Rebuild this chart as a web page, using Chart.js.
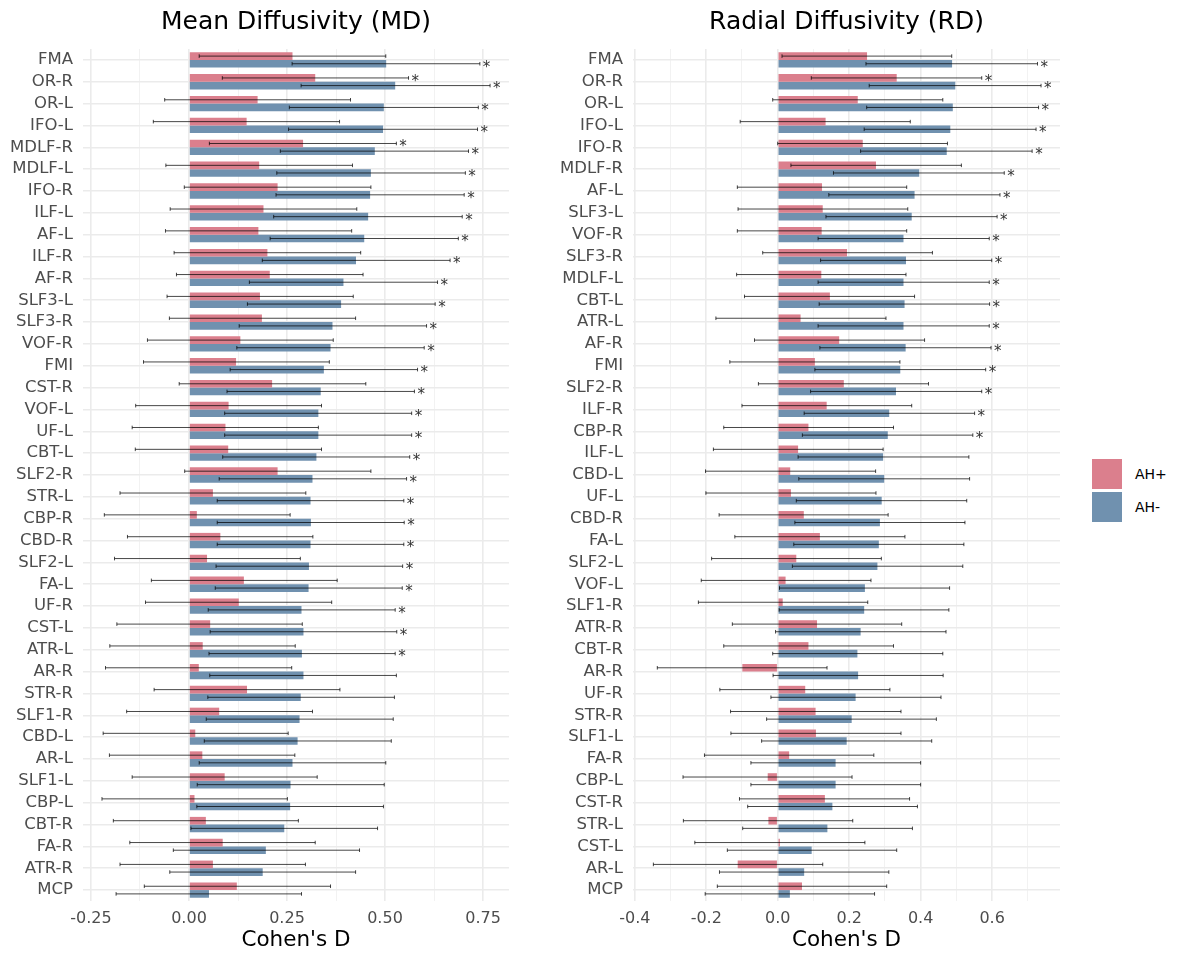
<!DOCTYPE html>
<html lang="en">
<head>
  <meta charset="UTF-8">
  <title>Cohen's D - MD / RD</title>
  <script src="https://cdn.jsdelivr.net/npm/chart.js"></script>
  <style>
    body {
      margin: 0;
      background-color: #fff;
      font-family: 'DejaVu Sans', sans-serif;
    }
    #contenedor {
      position: relative;
      width: 1182px;
      height: 954px;
    }
    #grafico-md { position: absolute; left: 0; top: 0; }
    #grafico-rd { position: absolute; left: 530px; top: 0; }
    #leyenda {
      position: absolute;
      left: 1092px;
      top: 457px;
      font-size: 14px;
      color: #000;
    }
    .item { display: flex; align-items: center; height: 33px; }
    .caja { width: 30px; height: 30px; margin-right: 13px; }
  </style>
</head>
<body>

  <div id="contenedor">
    <canvas id="grafico-md" width="520" height="954"></canvas>
    <canvas id="grafico-rd" width="540" height="954"></canvas>
    <div id="leyenda">
      <div class="item"><div class="caja" style="background:#DB7F8D"></div>AH+</div>
      <div class="item"><div class="caja" style="background:#7091AF"></div>AH-</div>
    </div>
  </div>

  <script>
    // ---- Mean Diffusivity (MD) ----
    var mdCats = ['FMA','OR-R','OR-L','IFO-L','MDLF-R','MDLF-L','IFO-R','ILF-L','AF-L','ILF-R','AF-R','SLF3-L','SLF3-R','VOF-R','FMI','CST-R','VOF-L','UF-L','CBT-L','SLF2-R','STR-L','CBP-R','CBD-R','SLF2-L','FA-L','UF-R','CST-L','ATR-L','AR-R','STR-R','SLF1-R','CBD-L','AR-L','SLF1-L','CBP-L','CBT-R','FA-R','ATR-R','MCP'];
    var mdPos   = [0.264,0.322,0.175,0.147,0.291,0.179,0.226,0.190,0.177,0.200,0.206,0.181,0.186,0.131,0.120,0.212,0.101,0.093,0.100,0.226,0.061,0.020,0.080,0.046,0.140,0.127,0.054,0.035,0.025,0.148,0.077,0.016,0.034,0.091,0.014,0.043,0.086,0.061,0.122];
    var mdPosLo = [0.026,0.085,-0.062,-0.091,0.052,-0.059,-0.012,-0.048,-0.060,-0.038,-0.032,-0.056,-0.050,-0.106,-0.116,-0.025,-0.136,-0.145,-0.137,-0.011,-0.176,-0.216,-0.157,-0.190,-0.096,-0.111,-0.184,-0.202,-0.213,-0.089,-0.159,-0.219,-0.203,-0.145,-0.222,-0.193,-0.151,-0.176,-0.114];
    var mdPosHi = [0.502,0.560,0.412,0.384,0.529,0.417,0.464,0.428,0.415,0.438,0.444,0.419,0.425,0.368,0.358,0.451,0.338,0.330,0.338,0.464,0.298,0.258,0.316,0.284,0.378,0.364,0.289,0.271,0.262,0.385,0.315,0.253,0.270,0.327,0.251,0.279,0.322,0.297,0.361];
    var mdPosSig = [0,1,0,0,1,0,0,0,0,0,0,0,0,0,0,0,0,0,0,0,0,0,0,0,0,0,0,0,0,0,0,0,0,0,0,0,0,0,0];
    var mdNeg   = [0.503,0.526,0.497,0.495,0.474,0.464,0.462,0.457,0.447,0.426,0.394,0.388,0.366,0.361,0.344,0.336,0.330,0.330,0.325,0.315,0.310,0.311,0.310,0.306,0.305,0.287,0.292,0.288,0.292,0.285,0.282,0.277,0.264,0.259,0.258,0.243,0.196,0.188,0.051];
    var mdNegLo = [0.263,0.286,0.256,0.254,0.233,0.224,0.222,0.216,0.207,0.187,0.154,0.149,0.128,0.122,0.105,0.097,0.091,0.091,0.086,0.077,0.072,0.072,0.072,0.069,0.067,0.049,0.054,0.051,0.053,0.048,0.044,0.039,0.026,0.021,0.020,0.005,-0.040,-0.049,-0.186];
    var mdNegHi = [0.742,0.768,0.738,0.736,0.713,0.705,0.702,0.697,0.687,0.666,0.634,0.628,0.606,0.600,0.583,0.575,0.568,0.568,0.563,0.555,0.548,0.549,0.548,0.545,0.544,0.526,0.530,0.526,0.529,0.524,0.521,0.516,0.502,0.498,0.496,0.481,0.435,0.425,0.287];
    var mdNegSig = [1,1,1,1,1,1,1,1,1,1,1,1,1,1,1,1,1,1,1,1,1,1,1,1,1,1,1,1,0,0,0,0,0,0,0,0,0,0,0];
    var mdTicks = [-0.25,-0.125,0,0.125,0.25,0.375,0.5,0.625,0.75];
    var mdMajor = [-0.25,0,0.25,0.5,0.75];
    var mdTickLabels = ['-0.25','0.00','0.25','0.50','0.75'];

    // ---- Radial Diffusivity (RD) ----
    var rdCats = ['FMA','OR-R','OR-L','IFO-L','IFO-R','MDLF-R','AF-L','SLF3-L','VOF-R','SLF3-R','MDLF-L','CBT-L','ATR-L','AF-R','FMI','SLF2-R','ILF-R','CBP-R','ILF-L','CBD-L','UF-L','CBD-R','FA-L','SLF2-L','VOF-L','SLF1-R','ATR-R','CBT-R','AR-R','UF-R','STR-R','SLF1-L','FA-R','CBP-L','CST-R','STR-L','CST-L','AR-L','MCP'];
    var rdPos   = [0.250,0.333,0.224,0.134,0.238,0.275,0.124,0.126,0.123,0.194,0.122,0.146,0.064,0.172,0.104,0.185,0.137,0.086,0.057,0.035,0.037,0.073,0.118,0.052,0.022,0.014,0.110,0.086,-0.099,0.077,0.106,0.107,0.032,-0.028,0.132,-0.026,0.006,-0.112,0.068];
    var rdPosLo = [0.012,0.094,-0.014,-0.105,0.000,0.037,-0.113,-0.111,-0.113,-0.042,-0.115,-0.093,-0.173,-0.065,-0.134,-0.054,-0.100,-0.151,-0.180,-0.202,-0.201,-0.164,-0.120,-0.185,-0.214,-0.222,-0.127,-0.151,-0.337,-0.162,-0.132,-0.131,-0.205,-0.265,-0.107,-0.264,-0.232,-0.348,-0.169];
    var rdPosHi = [0.487,0.571,0.462,0.371,0.475,0.514,0.361,0.364,0.361,0.433,0.359,0.383,0.303,0.411,0.342,0.422,0.375,0.324,0.295,0.274,0.275,0.309,0.356,0.290,0.261,0.252,0.347,0.324,0.138,0.314,0.345,0.345,0.269,0.208,0.369,0.210,0.244,0.126,0.305];
    var rdPosSig = [0,1,0,0,0,0,0,0,0,0,0,0,0,0,0,0,0,0,0,0,0,0,0,0,0,0,0,0,0,0,0,0,0,0,0,0,0,0,0];
    var rdNeg   = [0.488,0.497,0.490,0.483,0.473,0.396,0.383,0.375,0.352,0.359,0.352,0.355,0.352,0.358,0.343,0.331,0.312,0.308,0.295,0.298,0.291,0.286,0.283,0.279,0.244,0.242,0.232,0.223,0.225,0.218,0.207,0.193,0.162,0.162,0.153,0.139,0.095,0.074,0.034];
    var rdNegLo = [0.247,0.256,0.249,0.242,0.232,0.156,0.143,0.135,0.113,0.120,0.113,0.116,0.113,0.118,0.104,0.092,0.074,0.069,0.057,0.059,0.052,0.048,0.045,0.041,0.005,0.004,-0.006,-0.014,-0.013,-0.019,-0.031,-0.045,-0.075,-0.075,-0.084,-0.098,-0.141,-0.163,-0.203];
    var rdNegHi = [0.727,0.737,0.730,0.723,0.712,0.634,0.622,0.614,0.592,0.599,0.592,0.593,0.592,0.597,0.582,0.571,0.551,0.546,0.535,0.537,0.529,0.524,0.521,0.518,0.481,0.479,0.471,0.462,0.463,0.457,0.444,0.431,0.400,0.400,0.391,0.377,0.333,0.311,0.271];
    var rdNegSig = [1,1,1,1,1,1,1,1,1,1,1,1,1,1,1,1,1,1,0,0,0,0,0,0,0,0,0,0,0,0,0,0,0,0,0,0,0,0,0];
    var rdTicks = [-0.4,-0.3,-0.2,-0.1,0,0.1,0.2,0.3,0.4,0.5,0.6,0.7];
    var rdMajor = [-0.4,-0.2,0,0.2,0.4,0.6];
    var rdTickLabels = ['-0.4','-0.2','0.0','0.2','0.4','0.6'];

    var colorPos = '#DB7F8D';
    var colorNeg = '#7091AF';

    Chart.defaults.font.family = "'DejaVu Sans', sans-serif";
    Chart.defaults.color = '#4D4D4D';
    Chart.defaults.animation = false;

    // barras de error + asteriscos
    var barrasError = {
      id: 'barrasError',
      afterDatasetsDraw: function (chart) {
        var ctx = chart.ctx;
        var escala = chart.scales.x;
        ctx.save();
        chart.data.datasets.forEach(function (ds, d) {
          var meta = chart.getDatasetMeta(d);
          meta.data.forEach(function (barra, i) {
            var x1 = escala.getPixelForValue(ds.lo[i]);
            var x2 = escala.getPixelForValue(ds.hi[i]);
            var y = barra.y;
            ctx.strokeStyle = 'rgba(0,0,0,0.72)';
            ctx.lineWidth = 1;
            ctx.beginPath();
            ctx.moveTo(x1, y); ctx.lineTo(x2, y);
            ctx.moveTo(x1, y - 1.8); ctx.lineTo(x1, y + 1.8);
            ctx.moveTo(x2, y - 1.8); ctx.lineTo(x2, y + 1.8);
            ctx.stroke();
            if (ds.sig[i]) {
              ctx.fillStyle = '#333';
              ctx.font = "15px 'DejaVu Sans'";
              ctx.textAlign = 'left';
              ctx.textBaseline = 'middle';
              ctx.fillText('*', x2 + 3, y + 4);
            }
          });
        });
        ctx.restore();
      }
    };

    // titulo centrado sobre el panel
    var tituloPanel = {
      id: 'tituloPanel',
      afterDraw: function (chart, args, opts) {
        var ctx = chart.ctx;
        var a = chart.chartArea;
        ctx.save();
        ctx.fillStyle = '#000';
        ctx.font = "25px 'DejaVu Sans'";
        ctx.textAlign = 'center';
        ctx.textBaseline = 'middle';
        ctx.fillText(opts.text, (a.left + a.right) / 2, 22);
        ctx.restore();
      }
    };

    function crearGrafico(id, titulo, cats, sets, xMin, xMax, ticks, major, tickLabels, anchoY, padDer) {
      return new Chart(document.getElementById(id), {
        type: 'bar',
        data: {
          labels: cats,
          datasets: [{
            label: 'AH+',
            data: sets[0].v,
            lo: sets[0].lo, hi: sets[0].hi, sig: sets[0].sig,
            backgroundColor: colorPos,
            categoryPercentage: 0.7,
            barPercentage: 1
          }, {
            label: 'AH-',
            data: sets[1].v,
            lo: sets[1].lo, hi: sets[1].hi, sig: sets[1].sig,
            backgroundColor: colorNeg,
            categoryPercentage: 0.7,
            barPercentage: 1
          }]
        },
        options: {
          indexAxis: 'y',
          responsive: false,
          layout: { padding: { top: 49, right: padDer, left: 0, bottom: 0 } },
          plugins: {
            legend: { display: false },
            tooltip: { enabled: false },
            tituloPanel: { text: titulo }
          },
          scales: {
            x: {
              type: 'linear',
              min: xMin,
              max: xMax,
              afterBuildTicks: function (s) {
                s.ticks = ticks.map(function (v) { return { value: v }; });
              },
              afterFit: function (s) { s.height = 53; },
              ticks: {
                autoSkip: false,
                maxRotation: 0,
                padding: 8,
                font: { size: 16 },
                color: '#4D4D4D',
                callback: function (value) {
                  var k = major.indexOf(value);
                  return k >= 0 ? tickLabels[k] : '';
                }
              },
              grid: {
                drawTicks: false,
                color: function (c) {
                  return c.tick && major.indexOf(c.tick.value) >= 0 ? '#EBEBEB' : '#F1F1F1';
                },
                lineWidth: function (c) {
                  return c.tick && major.indexOf(c.tick.value) >= 0 ? 1.6 : 0.9;
                }
              },
              border: { display: false },
              title: {
                display: true,
                text: "Cohen's D",
                color: '#000',
                font: { size: 21.5 },
                padding: { top: 0, bottom: 1 }
              }
            },
            y: {
              type: 'category',
              afterFit: function (s) { s.width = anchoY; },
              ticks: {
                autoSkip: false,
                padding: 10,
                font: { size: 16.5 },
                color: '#4D4D4D'
              },
              grid: {
                offset: false,
                drawTicks: false,
                color: '#EBEBEB',
                lineWidth: 1.6
              },
              border: { display: false }
            }
          }
        },
        plugins: [barrasError, tituloPanel]
      });
    }

    var graficoMD = crearGrafico('grafico-md', 'Mean Diffusivity (MD)', mdCats, [
      { v: mdPos, lo: mdPosLo, hi: mdPosHi, sig: mdPosSig },
      { v: mdNeg, lo: mdNegLo, hi: mdNegHi, sig: mdNegSig }
    ], -0.2704, 0.8163, mdTicks, mdMajor, mdTickLabels, 83, 11);

    var graficoRD = crearGrafico('grafico-rd', 'Radial Diffusivity (RD)', rdCats, [
      { v: rdPos, lo: rdPosLo, hi: rdPosHi, sig: rdPosSig },
      { v: rdNeg, lo: rdNegLo, hi: rdNegHi, sig: rdNegSig }
    ], -0.405, 0.79, rdTicks, rdMajor, rdTickLabels, 103, 10);
  </script>

</body>
</html>
